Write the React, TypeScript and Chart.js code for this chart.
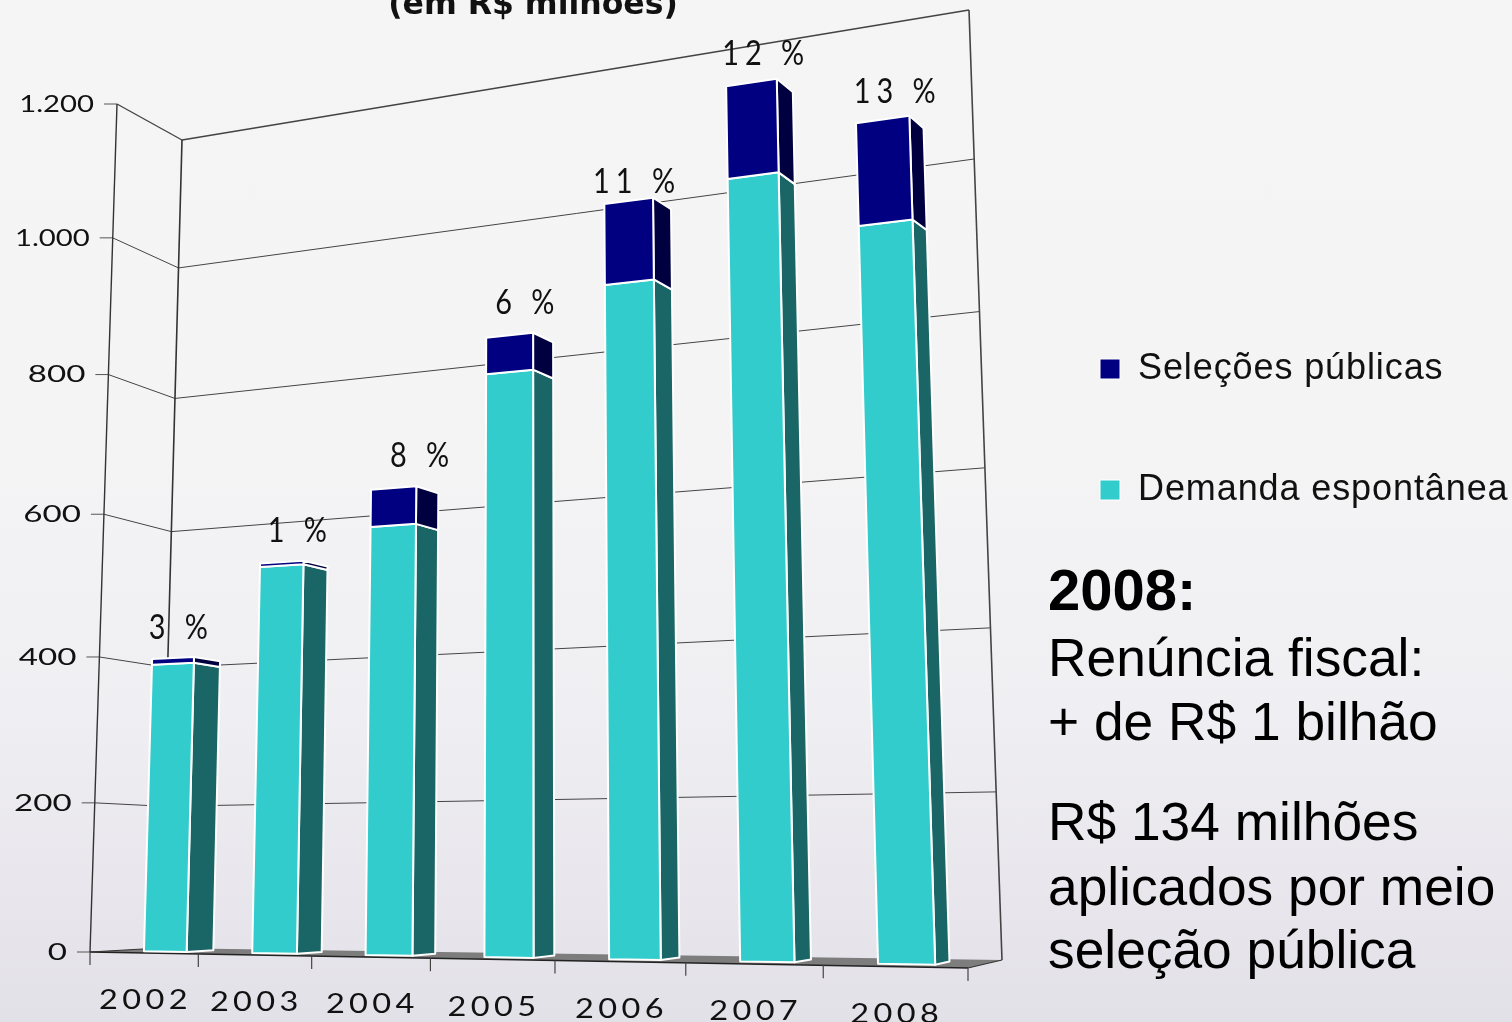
import React, { useEffect, useRef } from "react";
import { Chart, registerables } from "chart.js";

Chart.register(...registerables);

const years = ["2002", "2003", "2004", "2005", "2006", "2007", "2008"];
const demanda = [392, 520, 565, 760, 864, 986, 903];
const selecoes = [8, 5, 51, 50, 110, 125, 134];
const percentuais = ["3 %", "1 %", "8 %", "6 %", "11 %", "12 %", "13 %"];
const tituloTexto = "(em R$ milhões)";
const notas: [string, boolean][] = [
  ["2008:", true],
  ["Renúncia fiscal:", false],
  ["+ de R$ 1 bilhão", false],
  ["R$ 134 milhões", false],
  ["aplicados por meio", false],
  ["seleção pública", false],
];
const notasBase = [610, 676, 740, 840, 905, 968];
// hand placement of the percent labels relative to their bars
const nudgeX = [2, 11, 20, 8, -3, 2, 1];
const nudgeY = [0, -2, -3, -5, 7, -3, -2];

type Pt = [number, number];

// projective mapping of the unit square (chart-area coordinates) onto a quad
function quadMap(p0: Pt, p1: Pt, p2: Pt, p3: Pt) {
  const [x0, y0] = p0, [x1, y1] = p1, [x2, y2] = p2, [x3, y3] = p3;
  const dx1 = x1 - x2, dx2 = x3 - x2, sx = x0 - x1 + x2 - x3;
  const dy1 = y1 - y2, dy2 = y3 - y2, sy = y0 - y1 + y2 - y3;
  const den = dx1 * dy2 - dx2 * dy1;
  const g = (sx * dy2 - dx2 * sy) / den;
  const h = (dx1 * sy - sx * dy1) / den;
  const a = x1 - x0 + g * x1, b = x3 - x0 + h * x3;
  const d = y1 - y0 + g * y1, e = y3 - y0 + h * y3;
  return (u: number, v: number): Pt => {
    const w = g * u + h * v + 1;
    return [(a * u + b * v + x0) / w, (d * u + e * v + y0) / w];
  };
}

const frontPlane = quadMap([90, 952], [968, 968], [935, -26], [117, 104]);
const backPlane = quadMap([160, 948], [1002, 960], [969, 10], [182, 140]);
const project = (u: number, v: number, z: number): Pt => {
  const a = frontPlane(u, v), b = backPlane(u, v);
  return [a[0] + (b[0] - a[0]) * z, a[1] + (b[1] - a[1]) * z];
};
const Z_FRONT = 0.32;
const Z_BACK = 0.72;

const sideColors = ["#1A6666", "#000040"];

function line(ctx: CanvasRenderingContext2D, a: Pt, b: Pt, color: string, width: number) {
  ctx.beginPath();
  ctx.moveTo(a[0], a[1]);
  ctx.lineTo(b[0], b[1]);
  ctx.strokeStyle = color;
  ctx.lineWidth = width;
  ctx.stroke();
}

function quad(ctx: CanvasRenderingContext2D, pts: Pt[], fill: string, stroke?: string, width = 1.5) {
  ctx.beginPath();
  pts.forEach((p, i) => (i ? ctx.lineTo(p[0], p[1]) : ctx.moveTo(p[0], p[1])));
  ctx.closePath();
  ctx.fillStyle = fill;
  ctx.fill();
  if (stroke) {
    ctx.strokeStyle = stroke;
    ctx.lineWidth = width;
    ctx.lineJoin = "round";
    ctx.stroke();
  }
}

function wideText(ctx: CanvasRenderingContext2D, text: string, x: number, y: number, font: string, sx: number, spacing: string, align: CanvasTextAlign) {
  ctx.save();
  ctx.translate(x, y);
  ctx.scale(sx, 1);
  ctx.font = font;
  ctx.fillStyle = "#111";
  ctx.textAlign = align;
  ctx.textBaseline = "middle";
  (ctx as any).letterSpacing = spacing;
  ctx.fillText(text, 0, 0);
  ctx.restore();
}

const perspectivePlugin = {
  id: "perspective",
  afterUpdate(chart: any) {
    const lg = chart.legend;
    if (lg) {
      const pad = lg.options.labels.padding;
      lg.left = 1100 - pad;
      lg.right = 1512;
      lg.top = 369 - 18 - pad;
      lg.bottom = 1022;
    }
  },
  beforeDraw(chart: any) {
    (chart.ctx as any).letterSpacing = "0.9px";
  },
  beforeDatasetsDraw(chart: any) {
    const ctx: CanvasRenderingContext2D = chart.ctx;
    (ctx as any).letterSpacing = "0px";
    const area = chart.chartArea;
    const xs = chart.scales.x;
    const ys = chart.scales.y;
    const U = (px: number) => (px - area.left) / area.width;
    const V = (py: number) => (area.bottom - py) / area.height;

    ctx.save();
    // floor
    quad(ctx, [frontPlane(0, 0), frontPlane(1, 0), backPlane(1, 0), backPlane(0, 0)], "#7d7d7d");
    line(ctx, frontPlane(0, 0), frontPlane(1, 0), "#222", 1.6);
    line(ctx, frontPlane(1, 0), backPlane(1, 0), "#333", 1.2);
    line(ctx, frontPlane(0, 0), backPlane(0, 0), "#333", 1);

    // walls and gridlines come from the y scale ticks
    ys.ticks.forEach((t: any) => {
      const v = V(ys.getPixelForValue(t.value));
      const a = frontPlane(0, v);
      const b = backPlane(0, v);
      const c = backPlane(1, v);
      const top = t.value === ys.max;
      if (t.value !== 0) {
        line(ctx, a, b, "#444", top ? 1.4 : 1);
        line(ctx, b, c, "#444", top ? 1.6 : 1);
      }
      line(ctx, [a[0] - 13, a[1]], a, "#555", 1);
      const label = t.label as string;
      wideText(ctx, label, a[0] - 23, a[1], "400 24px Lato", label.length > 3 ? 1.22 : 1.38, "0px", "right");
    });
    line(ctx, frontPlane(0, 0), frontPlane(0, 1), "#333", 1.4);
    line(ctx, backPlane(0, 0), backPlane(0, 1), "#333", 1.6);
    line(ctx, backPlane(1, 0), backPlane(1, 1), "#444", 1.6);

    // x ticks and category labels
    const cat = area.width / xs.ticks.length;
    xs.ticks.forEach((t: any, i: number) => {
      const cx = xs.getPixelForTick(i);
      const p = frontPlane(U(cx), 0);
      wideText(ctx, t.label as string, p[0] + 2, p[1] + 48, "400 26px Lato", 1.25, "3.5px", "center");
      const q = frontPlane(U(cx - cat / 2), 0);
      line(ctx, q, [q[0], q[1] + 13], "#444", 1.2);
      if (i === xs.ticks.length - 1) {
        const r = frontPlane(U(cx + cat / 2), 0);
        line(ctx, r, [r[0], r[1] + 13], "#444", 1.2);
      }
    });

    // bars, read from the library's own bar elements
    const metas = [chart.getDatasetMeta(0), chart.getDatasetMeta(1)];
    years.forEach((_, i) => {
      metas.forEach((meta: any, d: number) => {
        const el = meta.data[i];
        const ds = chart.data.datasets[d];
        const u0 = U(el.x - el.width / 2);
        const u1 = U(el.x + el.width / 2);
        const vb = V(el.base);
        const vt = V(el.y);
        quad(ctx, [project(u1, vb, Z_FRONT), project(u1, vb, Z_BACK), project(u1, vt, Z_BACK), project(u1, vt, Z_FRONT)], sideColors[d], "#fff", 2);
        quad(ctx, [project(u0, vb, Z_FRONT), project(u1, vb, Z_FRONT), project(u1, vt, Z_FRONT), project(u0, vt, Z_FRONT)], ds.backgroundColor, "#fff", 2);
      });
      const topEl = metas[1].data[i];
      const uc = U(topEl.x);
      const p = project(uc, V(topEl.y), (Z_FRONT + Z_BACK) / 2);
      wideText(ctx, percentuais[i], p[0] + (uc - 0.5) * 16 + nudgeX[i], p[1] - 32 + nudgeY[i], "400 34px Lato", 0.85, "7px", "center");
    });

    // title and side notes
    ctx.fillStyle = "#111";
    ctx.textAlign = "center";
    ctx.textBaseline = "alphabetic";
    ctx.font = "bold 31.5px 'DejaVu Sans'";
    ctx.fillText(tituloTexto, 533, 14);
    ctx.textAlign = "left";
    notas.forEach(([text, bold], i) => {
      ctx.font = bold ? "bold 58px 'Liberation Sans'" : "53.3px 'Liberation Sans'";
      ctx.fillStyle = "#000";
      ctx.fillText(text, 1048, notasBase[i]);
    });
    ctx.restore();
    return false;
  },
};

export default function App() {
  const ref = useRef<HTMLCanvasElement>(null);
  useEffect(() => {
    const chart = new Chart(ref.current as HTMLCanvasElement, {
      type: "bar",
      data: {
        labels: years,
        datasets: [
          { label: "Demanda espontânea", data: demanda, backgroundColor: "#33CCCC", borderColor: "#ffffff", borderWidth: 1 },
          { label: "Seleções públicas", data: selecoes, backgroundColor: "#000080", borderColor: "#ffffff", borderWidth: 1 },
        ],
      },
      options: {
        responsive: false,
        animation: false,
        layout: { padding: 0 },
        datasets: { bar: { categoryPercentage: 1, barPercentage: 0.4 } },
        plugins: {
          tooltip: { enabled: false },
          legend: {
            position: "right",
            align: "start",
            reverse: true,
            labels: {
              boxWidth: 20,
              boxHeight: 20,
              padding: 85,
              color: "#111",
              font: { family: "'Liberation Sans'", size: 36 },
            },
          },
        },
        scales: {
          x: {
            stacked: true,
            grid: { display: false },
            border: { display: false },
            ticks: { display: false },
          },
          y: {
            stacked: true,
            min: 0,
            max: 1200,
            grid: { display: false },
            border: { display: false },
            ticks: {
              display: false,
              stepSize: 200,
              callback: (v: any) => (Number(v) >= 1000 ? `${Math.floor(Number(v) / 1000)}.${String(Number(v) % 1000).padStart(3, "0")}` : String(v)),
            },
          },
        },
      },
      plugins: [perspectivePlugin],
    } as any);
    return () => chart.destroy();
  }, []);
  return (
    <div
      style={{
        position: "absolute",
        left: 0,
        top: 0,
        width: 1512,
        height: 1022,
        overflow: "hidden",
        background: "linear-gradient(180deg,#f5f5f5 0%,#f4f4f5 45%,#efeef2 70%,#e3e1e8 100%)",
      }}
    >
      <canvas ref={ref} width={1512} height={1022} style={{ display: "block" }} />
    </div>
  );
}
